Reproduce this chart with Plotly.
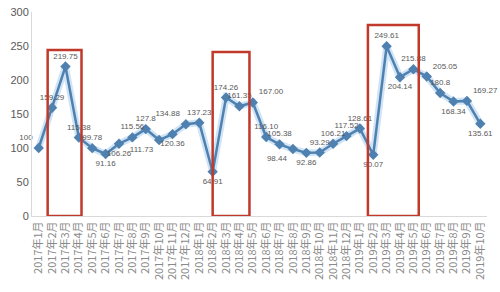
import plotly.graph_objects as go

months = [f"2017年{m}月" for m in range(1, 13)] + [f"2018年{m}月" for m in range(1, 13)] + [f"2019年{m}月" for m in range(1, 11)]
values = [100, 159.29, 219.75, 115.38, 99.78, 91.16, 106.26, 115.56, 127.8, 111.73, 120.36, 134.88,
          137.23, 64.91, 174.26, 161.35, 167.00, 116.10, 105.38, 98.44, 92.86, 93.29, 106.21, 117.52,
          128.61, 90.07, 249.61, 204.14, 215.88, 205.05, 180.8, 168.34, 169.27, 135.61]
labels = ["100", "159.29", "219.75", "115.38", "99.78", "91.16", "106.26", "115.56", "127.8", "111.73",
          "120.36", "134.88", "137.23", "64.91", "174.26", "161.35", "167.00", "116.10", "105.38", "98.44",
          "92.86", "93.29", "106.21", "117.52", "128.61", "90.07", "249.61", "204.14", "215.88", "205.05",
          "180.8", "168.34", "169.27", "135.61"]
positions = ["top left", "top center", "top center", "top center", "top center", "bottom center",
             "bottom center", "top center", "top center", "bottom left", "bottom center", "top left",
             "top center", "bottom center", "top center", "top center", "top right", "top center",
             "top center", "bottom left", "bottom center", "top center", "top center", "top center",
             "top center", "bottom center", "top center", "bottom center", "top center", "top right",
             "top center", "bottom center", "top right", "bottom center"]
y_ticks = [0, 50, 100, 150, 200, 250, 300]

fig = go.Figure()
fig.add_trace(go.Scatter(x=months, y=values, mode="lines",
                         line=dict(color="rgba(150,195,235,0.45)", width=7),
                         hoverinfo="skip", showlegend=False))
fig.add_trace(go.Scatter(x=months, y=values, mode="lines+markers+text",
                         line=dict(color="#4f81b0", width=2.5),
                         marker=dict(symbol="diamond", size=8, color="#4f81b0"),
                         text=labels, textposition=positions,
                         textfont=dict(size=8, color="#595959", family="Liberation Sans"),
                         showlegend=False, cliponaxis=False))

boxes = [(0.67, 3.2, 244), (13.0, 15.75, 241), (24.6, 28.4, 281)]
for x0, x1, y1 in boxes:
    fig.add_shape(type="rect", xref="x", yref="y", x0=x0, x1=x1, y0=0, y1=y1,
                  line=dict(color="#c0392b", width=2.5))

fig.update_layout(
    width=500, height=292,
    margin=dict(l=32, r=13, t=12, b=76),
    paper_bgcolor="white", plot_bgcolor="white",
    font=dict(family="Liberation Sans", color="#595959"),
)
fig.update_xaxes(type="category", range=[-0.5, len(months) - 0.5], automargin=False,
                 tickmode="array", tickvals=months, ticktext=months,
                 tickangle=-90, tickfont=dict(size=11, color="#8a8a8a", family="Noto Sans CJK SC"),
                 showgrid=False, showline=True, linecolor="#d9d9d9", ticks="")
fig.update_yaxes(range=[0, 300], tickvals=y_ticks, automargin=False,
                 tickfont=dict(size=11, color="#595959"),
                 showgrid=False, showline=True, linecolor="#d9d9d9", zeroline=False, ticks="")

fig.write_html("out.html")
